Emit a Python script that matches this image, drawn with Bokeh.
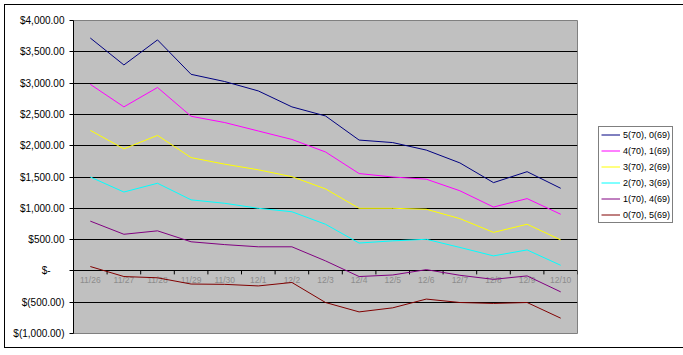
from bokeh.plotting import figure
from bokeh.models import Range1d, FixedTicker, Legend, LegendItem
from bokeh.core.properties import value
from bokeh.embed import file_html
from bokeh.resources import INLINE

categories = ["11/26", "11/27", "11/28", "11/29", "11/30", "12/1", "12/2", "12/3",
              "12/4", "12/5", "12/6", "12/7", "12/8", "12/9", "12/10"]

s_5_0 = [3720, 3290, 3690, 3140, 3025, 2875, 2620, 2475, 2090, 2050, 1930, 1725, 1410, 1585, 1320]
s_4_1 = [2980, 2620, 2930, 2470, 2370, 2235, 2100, 1900, 1555, 1500, 1465, 1280, 1020, 1155, 905]
s_3_2 = [2245, 1950, 2165, 1810, 1705, 1615, 1505, 1310, 1000, 1000, 985, 835, 615, 745, 495]
s_2_3 = [1500, 1260, 1400, 1135, 1080, 1000, 945, 745, 445, 480, 505, 375, 240, 335, 90]
s_1_4 = [795, 585, 640, 465, 420, 385, 385, 160, -90, -65, 20, -70, -135, -80, -335]
s_0_5 = [70, -90, -110, -210, -215, -240, -185, -505, -655, -590, -450, -505, -520, -505, -755]

series_labels = ["5(70), 0(69)", "4(70), 1(69)", "3(70), 2(69)",
                 "2(70), 3(69)", "1(70), 4(69)", "0(70), 5(69)"]
series_values = [s_5_0, s_4_1, s_3_2, s_2_3, s_1_4, s_0_5]
series_colors = ["#000080", "#ff00ff", "#ffff00", "#00ffff", "#800080", "#800000"]

y_ticks = [-1000, -500, 0, 500, 1000, 1500, 2000, 2500, 3000, 3500, 4000]


def money(v):
    if v == 0:
        return "$-" + "\u00a0" * 5
    s = "{:,.2f}".format(abs(v))
    return "$(" + s + ")" if v < 0 else "$" + s


FONT = "Liberation Sans"
n = len(categories)
xs = [i + 0.5 for i in range(n)]

p = figure(output_backend="svg", toolbar_location=None,
           frame_width=504, frame_height=313,
           min_border_left=68, min_border_right=95,
           min_border_top=15, min_border_bottom=14,
           x_range=Range1d(0, n), y_range=Range1d(y_ticks[0], y_ticks[-1]),
           background_fill_color="#c0c0c0", border_fill_color="white",
           outline_line_color="#808080", outline_line_width=1)
p.styles = {"border": "1px solid black", "margin-left": "4px", "margin-top": "4px"}

p.xaxis.visible = False
p.xgrid.visible = False

yax = p.yaxis[0]
yax.ticker = FixedTicker(ticks=y_ticks)
yax.major_label_overrides = {t: money(t) for t in y_ticks}
yax.major_label_text_font = FONT
yax.major_label_text_font_size = "10px"
yax.major_label_text_color = "black"
yax.major_label_standoff = 5
yax.major_tick_out = 4
yax.major_tick_in = 0
yax.minor_tick_out = 0
yax.minor_tick_in = 0
yax.axis_line_color = "black"
yax.major_tick_line_color = "black"

p.ygrid.ticker = FixedTicker(ticks=y_ticks[1:-1])
p.ygrid.grid_line_color = "black"
p.ygrid.grid_line_width = 1

# category labels along the zero line
p.text(x=xs, y=[0] * n, text=categories, text_font=value(FONT),
       text_font_size="8.5px", text_color="#8c8c8c", text_align="center",
       text_baseline="top", y_offset=4)

# category axis tick marks (between categories), just below the zero line
px_per_unit = 313 / (y_ticks[-1] - y_ticks[0])
tick_len = 3.5 / px_per_unit
bounds = list(range(1, n + 1))
p.segment(x0=bounds, y0=[0] * len(bounds), x1=bounds, y1=[-tick_len] * len(bounds),
          line_color="black", line_width=1)

items = []
for lab, vals, col in zip(series_labels, series_values, series_colors):
    r = p.line(xs, vals, line_color=col, line_width=1)
    items.append(LegendItem(label=lab, renderers=[r]))

legend = Legend(items=items, location=(21, 110),
                label_text_font=FONT, label_text_font_size="9px",
                label_text_color="black",
                glyph_width=19, glyph_height=11, label_height=11,
                label_standoff=3, spacing=5, padding=2, margin=0,
                border_line_color="black", border_line_width=1,
                background_fill_color="white", background_fill_alpha=1)
p.add_layout(legend, "right")

open("out.html", "w").write(file_html(p, INLINE))
